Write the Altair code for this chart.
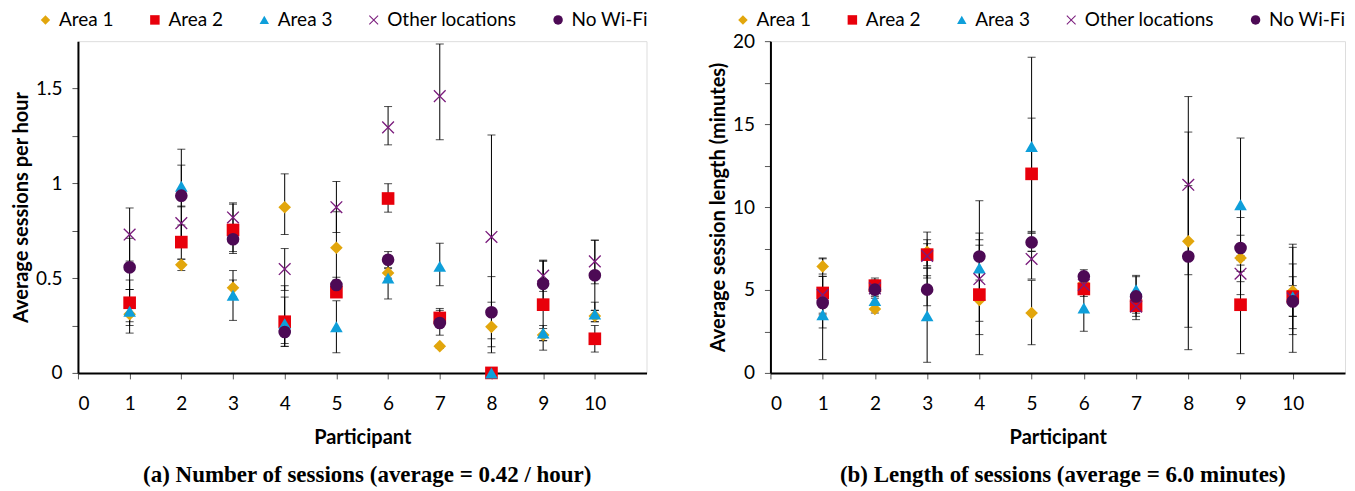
import altair as alt
import pandas as pd

participants = [1, 2, 3, 4, 5, 6, 7, 8, 9, 10]
series_names = ["Area 1", "Area 2", "Area 3", "Other locations", "No Wi-Fi"]
series_colors = ["#E2A60C", "#E8000B", "#0E9FDA", "#7A1B7C", "#4D0A55"]
X_PATH = "M-1,-0.85L-0.85,-1L0,-0.15L0.85,-1L1,-0.85L0.15,0L1,0.85L0.85,1L0,0.15L-0.85,1L-1,0.85L-0.15,0Z"
series_shapes = ["diamond", "square", "triangle-up", X_PATH, "circle"]

# ---------- (a) sessions per hour ----------
a_area1 = [0.31, 0.57, 0.449, 0.874, 0.66, 0.527, 0.141, 0.243, 0.20, 0.30]
a_area1_lo = [0.27, 0.54, 0.40, 0.73, 0.49, 0.50, 0.13, 0.106, 0.17, 0.27]
a_area1_hi = [0.35, 0.60, 0.49, 1.05, 0.85, 0.55, 0.15, 0.373, 0.234, 0.33]
a_area2 = [0.37, 0.69, 0.754, 0.27, 0.426, 0.92, 0.29, 0.0, 0.36, 0.18]
a_area2_lo = [0.25, 0.60, 0.63, 0.14, 0.40, 0.848, 0.24, 0.0, 0.12, 0.11]
a_area2_hi = [0.49, 0.78, 0.89, 0.40, 0.45, 0.998, 0.34, 0.0, 0.595, 0.25]
a_area3 = [0.325, 0.985, 0.41, 0.26, 0.243, 0.50, 0.562, 0.0, 0.21, 0.31]
a_area3_lo = [0.21, 0.876, 0.277, 0.155, 0.106, 0.39, 0.46, 0.0, 0.17, 0.27]
a_area3_hi = [0.44, 1.096, 0.54, 0.46, 0.38, 0.61, 0.684, 0.0, 0.25, 0.373]
a_other = [0.73, 0.79, 0.82, 0.548, 0.874, 1.295, 1.46, 0.717, 0.513, 0.588]
a_other_lo = [0.59, 0.70, 0.74, 0.435, 0.74, 1.203, 1.23, 0.18, 0.43, 0.47]
a_other_hi = [0.87, 0.88, 0.897, 0.656, 1.01, 1.405, 1.735, 1.255, 0.59, 0.70]
a_nowifi = [0.557, 0.935, 0.705, 0.216, 0.464, 0.597, 0.263, 0.32, 0.47, 0.515]
a_nowifi_lo = [0.44, 0.69, 0.64, 0.14, 0.43, 0.555, 0.199, 0.138, 0.35, 0.33]
a_nowifi_hi = [0.71, 1.18, 0.77, 0.28, 0.504, 0.64, 0.33, 0.508, 0.59, 0.70]

# ---------- (b) session length (minutes) ----------
nan = None
b_area1 = [6.42, 3.85, 7.3, 4.4, 3.61, 5.4, 4.3, 7.93, 6.93, 4.92]
b_area1_lo = [5.96, 3.61, 6.46, 1.1, 1.7, 5.1, 4.0, 1.4, 4.72, 2.31]
b_area1_hi = [6.88, 4.1, 8.03, 7.7, 5.58, 5.7, 4.6, 14.52, 9.37, 7.57]
b_area2 = [4.82, 5.26, 7.13, 4.72, 12.0, 5.06, 4.05, nan, 4.11, 4.6]
b_area2_lo = [2.71, 4.8, 5.72, 4.4, 8.53, 4.61, 3.21, nan, 1.16, 2.67]
b_area2_hi = [6.93, 5.72, 8.49, 5.0, 15.36, 5.5, 4.9, nan, 7.06, 6.57]
b_area3 = [3.51, 4.37, 3.45, 6.32, 13.65, 3.91, 5.02, nan, 10.14, 4.6]
b_area3_lo = [0.8, 4.1, 0.64, 2.31, 8.43, 2.51, 4.2, nan, 6.12, 3.41]
b_area3_hi = [5.82, 4.6, 6.32, 10.38, 19.03, 5.3, 5.88, nan, 14.16, 5.8]
b_other = [4.7, 5.1, 7.05, 5.66, 6.87, 5.3, 4.0, 11.34, 5.98, 4.5]
b_other_lo = [3.6, 4.7, 6.32, 3.11, 5.66, 4.9, 3.6, 5.92, 5.5, 1.24]
b_other_hi = [5.82, 5.5, 7.79, 8.03, 7.33, 5.7, 4.4, 16.66, 6.5, 7.76]
b_nowifi = [4.22, 5.02, 5.02, 7.02, 7.87, 5.82, 4.61, 7.02, 7.53, 4.31]
b_nowifi_lo = [3.5, 4.5, 4.05, 5.6, 7.33, 5.42, 3.41, 2.75, 6.8, 3.41]
b_nowifi_hi = [4.9, 5.6, 5.86, 8.43, 8.43, 6.22, 5.8, 11.29, 8.3, 5.26]


def build(vals, los, his):
    rows = []
    for name, v, lo, hi in zip(series_names, vals, los, his):
        for p, a, b, c in zip(participants, v, lo, hi):
            if a is None:
                continue
            rows.append({"participant": p, "series": name, "value": a, "lo": b, "hi": c})
    return pd.DataFrame(rows)


df_a = build(
    [a_area1, a_area2, a_area3, a_other, a_nowifi],
    [a_area1_lo, a_area2_lo, a_area3_lo, a_other_lo, a_nowifi_lo],
    [a_area1_hi, a_area2_hi, a_area3_hi, a_other_hi, a_nowifi_hi],
)
df_b = build(
    [b_area1, b_area2, b_area3, b_other, b_nowifi],
    [b_area1_lo, b_area2_lo, b_area3_lo, b_other_lo, b_nowifi_lo],
    [b_area1_hi, b_area2_hi, b_area3_hi, b_other_hi, b_nowifi_hi],
)

FONT = "Lato"


def panel(df, ymax, tick_vals, label_step, ytitle, caption, width, legend_x):
    xenc = alt.X(
        "participant:Q",
        scale=alt.Scale(domain=[0, 11], nice=False, zero=False),
        axis=alt.Axis(values=list(range(0, 11)), title="Participant", grid=False,
                      labelFont=FONT, labelFontSize=19, labelColor="black",
                      titleFont=FONT, titleFontSize=20, titleFontWeight="bold",
                      titleColor="black", domainColor="black", domainWidth=2,
                      tickColor="#555555", tickSize=6, labelPadding=16, titlePadding=14),
    )
    yaxis = alt.Axis(values=tick_vals, title=ytitle, grid=False,
                     labelExpr=f"datum.value % {label_step} == 0 ? toString(datum.value) : ''",
                     labelFont=FONT, labelFontSize=19, labelColor="black",
                     titleFont=FONT, titleFontSize=20, titleFontWeight="bold",
                     titleColor="black", domainColor="black", domainWidth=2,
                     tickColor="#555555", tickSize=6, labelPadding=10, titlePadding=4)
    yscale = alt.Scale(domain=[0, ymax], nice=False, zero=True)
    base = alt.Chart(df)
    rules = base.mark_rule(color="black", strokeWidth=1).encode(
        x=xenc, y=alt.Y("lo:Q", scale=yscale, axis=yaxis), y2="hi:Q")
    cap_lo = base.mark_tick(color="black", orient="horizontal", size=8, thickness=1).encode(
        x=xenc, y=alt.Y("lo:Q", scale=yscale, axis=yaxis))
    cap_hi = base.mark_tick(color="black", orient="horizontal", size=8, thickness=1).encode(
        x=xenc, y=alt.Y("hi:Q", scale=yscale, axis=yaxis))
    legend = alt.Legend(title=None, orient="none", direction="horizontal",
                        legendX=legend_x, legendY=-31, labelFont=FONT, labelFontSize=19,
                        labelColor="black", symbolSize=90, columnPadding=31.5,
                        labelOffset=4, symbolStrokeWidth=0, padding=0)
    pts = base.mark_point(filled=True, opacity=1, size=160).encode(
        x=xenc,
        y=alt.Y("value:Q", scale=yscale, axis=yaxis),
        color=alt.Color("series:N", scale=alt.Scale(domain=series_names, range=series_colors),
                        legend=legend),
        shape=alt.Shape("series:N", scale=alt.Scale(domain=series_names, range=series_shapes),
                        legend=legend),
        order=alt.Order("ord:Q"),
    ).transform_calculate(ord=f"indexof({series_names}, datum.series)")
    return alt.layer(rules, cap_lo, cap_hi, pts).properties(
        width=width, height=332,
        title=alt.TitleParams(caption, orient="bottom", font="Liberation Serif", fontSize=23,
                              fontWeight="bold", color="black", offset=16, frame="group",
                              dx=5),
    )


left = panel(df_a, 1.75, [0, 0.25, 0.5, 0.75, 1, 1.25, 1.5], 0.5,
             "Average sessions per hour",
             "(a) Number of sessions (average = 0.42 / hour)", 569, -42)
right = panel(df_b, 20, [0, 2.5, 5, 7.5, 10, 12.5, 15, 17.5, 20], 5,
              "Average session length (minutes)",
              "(b) Length of sessions (average = 6.0 minutes)", 575, -37)

chart = alt.hconcat(left, right, spacing=58).resolve_scale(
    color="independent", shape="independent", y="independent", x="independent"
).resolve_legend(color="independent", shape="independent").configure_view(
    stroke="#7f7f7f", strokeWidth=1
).properties(
    padding={"left": 2, "top": 1, "right": 0, "bottom": 0}
).configure(background="white")

chart.save("out.html", embed_options={"renderer": "svg", "actions": False})
